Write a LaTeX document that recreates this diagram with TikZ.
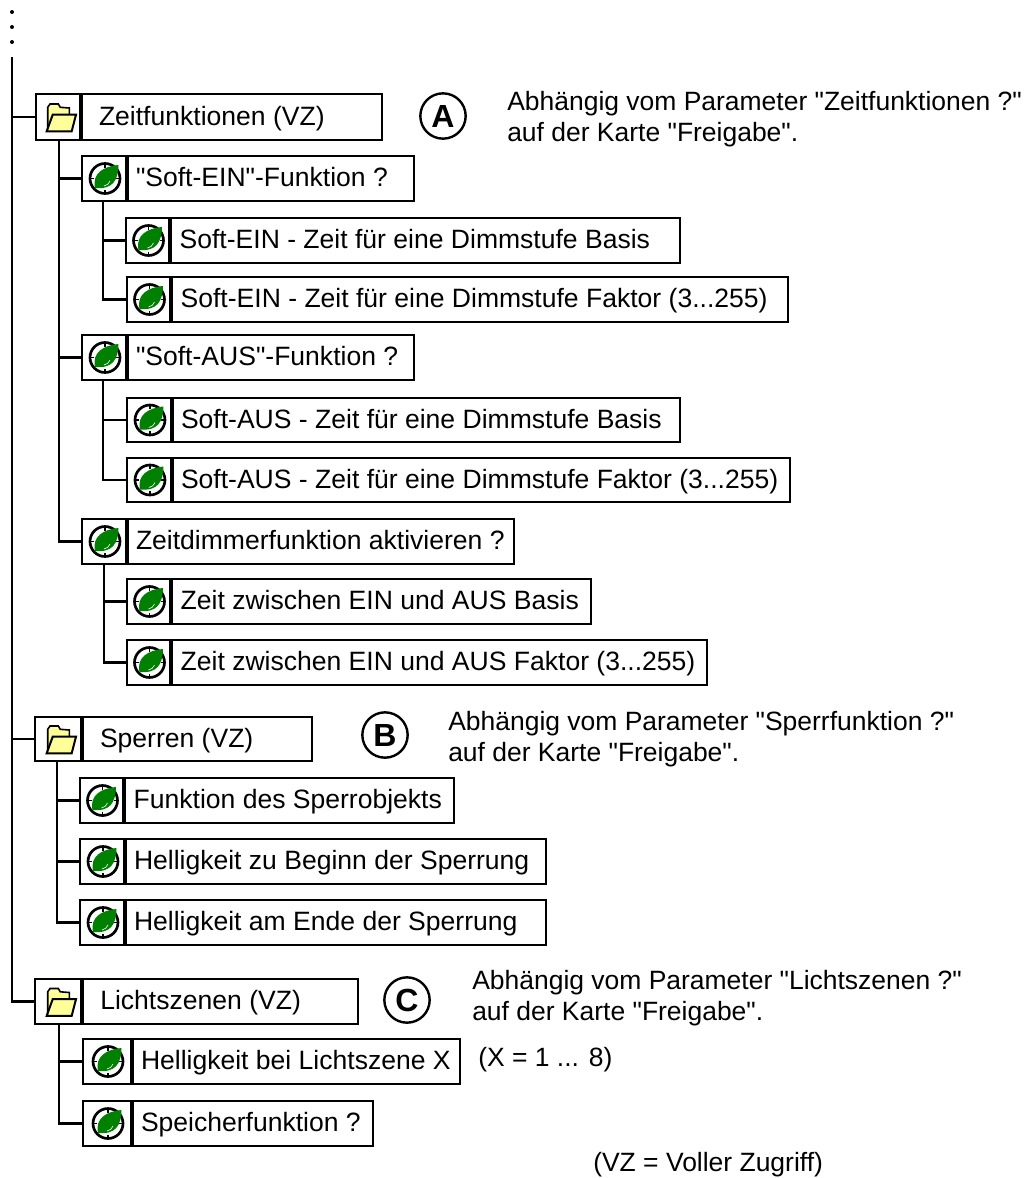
\documentclass[tikz,border=0pt]{standalone}
\usepackage{fontspec}
\newfontfamily\arialf{Liberation Sans}
\definecolor{leaf}{RGB}{0,128,0}
\definecolor{folderyellow}{RGB}{255,255,153}
\tikzset{
  pxgrid/.style={x=0.75pt,y=-0.75pt},
  iconbox/.style={draw=black,line width=1.5pt,fill=white,anchor=north west,inner sep=0pt},
  textbox/.style={draw=black,line width=1.5pt,fill=white,anchor=north west,inner xsep=0pt,inner ysep=0pt,align=flush left,font=\arialf\fontsize{19.9}{24}\selectfont},
  divider/.style={draw=black,line width=2.3pt},
  wire/.style={draw=black,line width=1.9pt},
  note/.style={anchor=west,inner sep=0pt,align=flush left,font=\arialf\fontsize{19.85}{23.3}\selectfont},
  badge/.style={circle,draw=black,line width=1.8pt,minimum size=34pt,inner sep=0pt,font=\arialf\fontsize{24}{26}\selectfont\bfseries},
  pics/clock/.style={code={
    \draw[black,line width=2pt,fill=white] (0,0) circle (15);
    \foreach \a in {0,90,180,270}{\draw[black,line width=1.1pt] (\a:15) -- (\a:11);}
    \fill[leaf] (-10,9.5) .. controls (-13,-5) and (-2,-12) .. (13.5,-13.5) .. controls (13,2) and (8,11) .. (-10,9.5) -- cycle;
    \draw[white,line width=0.45pt] (-1,7.5) .. controls (2,7) and (4,5) .. (5,2.5);
  }},
  pics/folder/.style={code={
    \draw[black,line width=1.2pt,fill=folderyellow] (-11.3,13.7) -- (-11.3,-9.7) -- (-9,-13) -- (-0.7,-13) -- (1.3,-9.7) -- (10.3,-9) -- (10.3,-2) -- cycle;
    \draw[black,line width=1.5pt,fill=folderyellow] (-12.3,14.3) -- (-6.3,-2.3) -- (17,-2.3) -- (12.7,14.3) -- cycle;
  }}
}
% #1 name, #2 x0, #3 y0, #4 x divider, #5 x1, #6 y1, #7 text offset, #8 text, #9 icon
\newcommand{\rowbox}[9]{%
  \pgfmathsetlengthmacro{\rw}{(#5-#4)*0.75pt}%
  \pgfmathsetlengthmacro{\rh}{(#6-#3)*0.75pt}%
  \pgfmathsetlengthmacro{\iw}{(#4-#2)*0.75pt}%
  \node[iconbox,minimum width=\iw,minimum height=\rh] (#1) at (#2,#3) {};
  \node[textbox,text width=\rw,minimum height=\rh] (#1t) at (#4,#3) {\rule[-5.1pt]{0pt}{22.8pt}\hspace*{#7}#8};
  \draw[divider] (#1t.north west) -- (#1t.south west);
  \pic at (#1.center) {#9};
}
\begin{document}
\begin{tikzpicture}[pxgrid]
\useasboundingbox (0,0) rectangle (1025,1178);
\fill[black] (12,12) circle (2) (12,27) circle (2) (12,42) circle (2);
\coordinate (top) at (12,57);

\rowbox{zeit}{35}{93}{81}{381}{139}{12.75pt}{Zeitfunktionen (VZ)}{folder}
\rowbox{sein}{81}{155}{127}{413}{200}{6pt}{"Soft-EIN"-Funktion ?}{clock}
\rowbox{seinb}{125}{217}{170}{679}{262}{6.5pt}{Soft-EIN - Zeit für eine Dimmstufe Basis}{clock}
\rowbox{seinf}{126}{276}{171}{787}{321}{6.5pt}{Soft-EIN - Zeit für eine Dimmstufe Faktor (3...255)}{clock}
\rowbox{saus}{81}{334}{127}{413}{379}{6pt}{"Soft-AUS"-Funktion ?}{clock}
\rowbox{sausb}{126}{397}{172}{679}{441}{6pt}{Soft-AUS - Zeit für eine Dimmstufe Basis}{clock}
\rowbox{sausf}{126}{457}{172}{789}{501}{6pt}{Soft-AUS - Zeit für eine Dimmstufe Faktor (3...255)}{clock}
\rowbox{zdim}{81}{518}{127}{513}{563}{6pt}{Zeitdimmerfunktion aktivieren ?}{clock}
\rowbox{zzb}{126}{578}{171}{590}{623}{6.5pt}{Zeit zwischen EIN und AUS Basis}{clock}
\rowbox{zzf}{126}{639}{171}{706}{684}{6.5pt}{Zeit zwischen EIN und AUS Faktor (3...255)}{clock}
\rowbox{sperr}{34}{716}{82}{311}{760}{12.75pt}{Sperren (VZ)}{folder}
\rowbox{sfun}{79}{777}{124}{453}{822}{6.5pt}{Funktion des Sperrobjekts}{clock}
\rowbox{sbeg}{79}{838}{125}{545}{883}{6pt}{Helligkeit zu Beginn der Sperrung}{clock}
\rowbox{send}{79}{899}{125}{545}{944}{6pt}{Helligkeit am Ende der Sperrung}{clock}
\rowbox{licht}{34}{978}{82}{357}{1023}{13pt}{Lichtszenen (VZ)}{folder}
\rowbox{lhel}{82}{1038}{132}{459}{1083}{6pt}{Helligkeit bei Lichtszene X}{clock}
\rowbox{lspe}{82}{1100}{132}{372}{1145}{6pt}{Speicherfunktion ?}{clock}

\draw[wire] (top) |- (zeit.west);
\draw[wire] (top) |- (sperr.west);
\draw[wire] (top) |- (licht.west);
\draw[wire] (zeit.south) |- (sein.west);
\draw[wire] (zeit.south) |- (saus.west);
\draw[wire] (zeit.south) |- (zdim.west);
\draw[wire] ([xshift=-1.5pt]sein.south) |- (seinb.west);
\draw[wire] ([xshift=-1.5pt]sein.south) |- (seinf.west);
\draw[wire] ([xshift=-1.5pt]saus.south) |- (sausb.west);
\draw[wire] ([xshift=-1.5pt]saus.south) |- (sausf.west);
\draw[wire] ([xshift=-0.75pt]zdim.south) |- (zzb.west);
\draw[wire] ([xshift=-0.75pt]zdim.south) |- (zzf.west);
\draw[wire] ([xshift=-1.5pt]sperr.south) |- (sfun.west);
\draw[wire] ([xshift=-1.5pt]sperr.south) |- (sbeg.west);
\draw[wire] ([xshift=-1.5pt]sperr.south) |- (send.west);
\draw[wire] (licht.south) |- (lhel.west);
\draw[wire] (licht.south) |- (lspe.west);

\node[badge] (a) at (443,116) {A};
\node[badge] (b) at (385,735) {B};
\node[badge] (c) at (407,1000) {C};
\node[note] (na) at (507,119) {Abhängig vom Parameter "Zeitfunktionen ?"\\auf der Karte "Freigabe".};
\node[note] (nb) at (448,739) {Abhängig vom Parameter "Sperrfunktion ?"\\auf der Karte "Freigabe".};
\node[note] (nc) at (472,998) {Abhängig vom Parameter "Lichtszenen ?"\\auf der Karte "Freigabe".};
\node[note] (nx) at (478,1060) {(X = 1 ... 8)};
\node[note] (nv) at (593,1165) {(VZ = Voller Zugriff)};
\end{tikzpicture}
\end{document}
